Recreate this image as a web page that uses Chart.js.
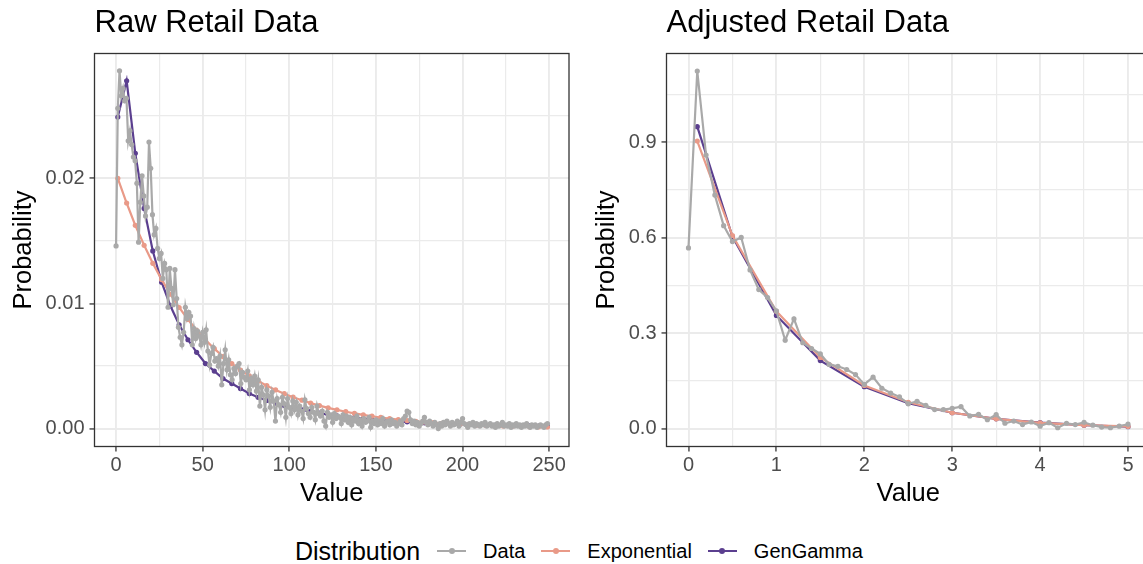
<!DOCTYPE html>
<html>
<head>
<meta charset="utf-8">
<script src="https://cdn.jsdelivr.net/npm/chart.js@4.4.0/dist/chart.umd.min.js"></script>
<style>
  html, body { margin: 0; padding: 0; background: #fff; width: 1143px; height: 564px; overflow: hidden; position: relative; }
  canvas { position: absolute; top: 0; }
  #rawChart { left: 0; }
  #adjChart { left: 580px; }
  .legend {
    position: absolute; left: 295px; top: 535px; height: 32px;
    display: flex; align-items: center;
    font-family: 'Liberation Sans', Arial, sans-serif; color: #000;
  }
  .legend .title { font-size: 25px; margin-right: 17px; }
  .legend .key { position: relative; width: 29px; height: 2px; margin-right: 17px; }
  .legend .key i { position: absolute; left: 11.5px; top: -2px; width: 6px; height: 6px; border-radius: 50%; }
  .legend .label { font-size: 20px; margin-right: 16px; }
</style>
</head>
<body>
<canvas id="rawChart" width="580" height="520"></canvas>
<canvas id="adjChart" width="580" height="520"></canvas>
<div class="legend" id="legend"></div>

<script>
// Colours
const dataColor = '#a9a9a9';
const expColor = '#e99a88';
const ggColor = '#5b3f8f';

// ---------- Raw Retail Data ----------
// observed probability for value 0..249
const rawDataProb = [
  0.0146, 0.0256, 0.0286, 0.0266, 0.0272, 0.0262, 0.0264, 0.0230, 0.0238, 0.0227,
  0.0217, 0.0214, 0.0196, 0.0149, 0.0181, 0.0202, 0.0186, 0.0170, 0.0177, 0.0229,
  0.0208, 0.0171, 0.0155, 0.0160, 0.0144, 0.0136, 0.0140, 0.0120, 0.0132, 0.0127,
  0.0097, 0.0128, 0.0112, 0.0099, 0.0127, 0.0104, 0.0081, 0.0073, 0.0067, 0.0077,
  0.0097, 0.0088, 0.0093, 0.0090, 0.0067, 0.0080, 0.0072, 0.0078, 0.0074, 0.0067,
  0.0077, 0.0069, 0.0079, 0.0062, 0.0051, 0.0060, 0.0065, 0.0054, 0.0056, 0.0050,
  0.0058, 0.0035, 0.0052, 0.0063, 0.0047, 0.0055, 0.0043, 0.0039, 0.0048, 0.0044,
  0.0050, 0.0052, 0.0036, 0.0045, 0.0041, 0.0039, 0.0046, 0.0031, 0.0040, 0.0035,
  0.0042, 0.0030, 0.0039, 0.0018, 0.0033, 0.0027, 0.0015, 0.0031, 0.0026, 0.0017,
  0.0029, 0.0022, 0.0006, 0.0024, 0.0019, 0.0013, 0.0025, 0.0020, 0.0009, 0.0024,
  0.0017, 0.0012, 0.0022, 0.0015, 0.0021, 0.0011, 0.0018, 0.0014, 0.0008, 0.0023,
  0.0016, 0.0012, 0.0009, 0.0017, 0.0013, 0.0007, 0.0018, 0.0012, 0.0010, 0.0014,
  0.0006, 0.0002, 0.0013, 0.0009, 0.0011, 0.0005, 0.0012, 0.0008, 0.0010, 0.0009,
  0.0004, 0.0011, 0.0007, 0.0010, 0.0005, 0.0009, 0.0003, 0.0008, 0.0006, 0.0010,
  0.0004, 0.0007, 0.0002, 0.0008, 0.0005, 0.0006, 0.0009, 0.0001, 0.0006, 0.0004,
  0.0007, 0.0003, 0.0006, 0.0004, 0.0008, 0.0002, 0.0005, 0.0006, 0.0003, 0.0007,
  0.0004, 0.0005, 0.0002, 0.0004, 0.0006, 0.0003, 0.0008, 0.0010, 0.0014, 0.0013,
  0.0007, 0.0004, 0.0006, 0.0003, 0.0005, 0.0002, 0.0004, 0.0006, 0.0009, 0.0005,
  0.0003, 0.0006, 0.0004, 0.0002, 0.0005, 0.0003, 0.0000, 0.0004, 0.0002, 0.0005,
  0.0003, 0.0006, 0.0004, 0.0002, 0.0005, 0.0003, 0.0004, 0.0006, 0.0002, 0.0005,
  0.0008, 0.0004, 0.0003, 0.0001, 0.0004, 0.0003, 0.0005, 0.0002, 0.0004, 0.0003,
  0.0002, 0.0004, 0.0003, 0.0005, 0.0002, 0.0003, 0.0004, 0.0002, 0.0003, 0.0001,
  0.0004, 0.0002, 0.0003, 0.0005, 0.0002, 0.0003, 0.0002, 0.0004, 0.0001, 0.0003,
  0.0002, 0.0004, 0.0002, 0.0003, 0.0001, 0.0003, 0.0002, 0.0004, 0.0002, 0.0001,
  0.0003, 0.0002, 0.0003, 0.0001, 0.0002, 0.0003, 0.0002, 0.0001, 0.0003, 0.0004
];
const rawDataValue = rawDataProb.map((p, i) => i);

// fitted curves evaluated on a grid of values
const rawFitValue = [
  1.0, 6.1, 11.1, 16.2, 21.2, 26.3, 31.4, 36.4, 41.5, 46.5,
  51.6, 56.7, 61.7, 66.8, 71.8, 76.9, 82.0, 87.0, 92.1, 97.1,
  102.2, 107.3, 112.3, 117.4, 122.4, 127.5, 132.6, 137.6, 142.7, 147.7,
  152.8, 157.9, 162.9, 168.0, 173.0, 178.1, 183.2, 188.2, 193.3, 198.3,
  203.4, 208.5, 213.5, 218.6, 223.6, 228.7, 233.8, 238.8, 243.9, 249.0
];
const rawExpProb = [
  0.02000, 0.01803, 0.01625, 0.01465, 0.01321, 0.01191, 0.01074, 0.00968, 0.00872, 0.00786,
  0.00709, 0.00639, 0.00576, 0.00519, 0.00468, 0.00422, 0.00381, 0.00343, 0.00309, 0.00279,
  0.00251, 0.00227, 0.00204, 0.00184, 0.00166, 0.00150, 0.00135, 0.00122, 0.00110, 0.00099,
  0.00089, 0.00080, 0.00072, 0.00065, 0.00059, 0.00053, 0.00048, 0.00043, 0.00039, 0.00035,
  0.00032, 0.00029, 0.00026, 0.00023, 0.00021, 0.00019, 0.00017, 0.00015, 0.00014, 0.00013
];
const rawGGProb = [
  0.02490, 0.02780, 0.02200, 0.01760, 0.01420, 0.01170, 0.00980, 0.00830, 0.00710, 0.00610,
  0.00520, 0.00460, 0.00400, 0.00360, 0.00320, 0.00280, 0.00250, 0.00225, 0.00203, 0.00185,
  0.00166, 0.00150, 0.00137, 0.00123, 0.00112, 0.00102, 0.00094, 0.00087, 0.00080, 0.00074,
  0.00068, 0.00063, 0.00058, 0.00054, 0.00050, 0.00046, 0.00043, 0.00040, 0.00037, 0.00035,
  0.00033, 0.00031, 0.00029, 0.00027, 0.00026, 0.00024, 0.00023, 0.00022, 0.00021, 0.00020
];
const rawXTicks = [0, 25, 50, 75, 100, 125, 150, 175, 200, 225, 250];
const rawXLabels = ['0', '', '50', '', '100', '', '150', '', '200', '', '250'];
const rawYTicks = [0, 0.005, 0.01, 0.015, 0.02, 0.025];
const rawYLabels = ['0.00', '', '0.01', '', '0.02', ''];

// ---------- Adjusted Retail Data ----------
const adjDataValue = [
  0.0, 0.1, 0.2, 0.3, 0.4, 0.5, 0.6, 0.7, 0.8, 0.9,
  1.0, 1.1, 1.2, 1.3, 1.4, 1.5, 1.6, 1.7, 1.8, 1.9,
  2.0, 2.1, 2.2, 2.3, 2.4, 2.5, 2.6, 2.7, 2.8, 2.9,
  3.0, 3.1, 3.2, 3.3, 3.4, 3.5, 3.6, 3.7, 3.8, 3.9,
  4.0, 4.1, 4.2, 4.3, 4.4, 4.5, 4.6, 4.7, 4.8, 4.9, 5.0
];
const adjDataProb = [
  0.568, 1.124, 0.860, 0.734, 0.638, 0.588, 0.601, 0.499, 0.437, 0.412,
  0.370, 0.278, 0.345, 0.270, 0.252, 0.235, 0.202, 0.196, 0.186, 0.170,
  0.139, 0.162, 0.127, 0.112, 0.100, 0.078, 0.086, 0.073, 0.060, 0.060,
  0.064, 0.069, 0.040, 0.045, 0.028, 0.044, 0.017, 0.024, 0.013, 0.021,
  0.008, 0.019, 0.003, 0.017, 0.013, 0.020, 0.011, 0.005, 0.003, 0.008, 0.014
];
const adjFitValue = [0.1, 0.5, 1.0, 1.5, 2.0, 2.5, 3.0, 3.5, 4.0, 4.5, 5.0];
const adjExpProb = [0.904, 0.607, 0.369, 0.224, 0.136, 0.083, 0.050, 0.031, 0.018, 0.011, 0.007];
const adjGGProb = [0.949, 0.604, 0.356, 0.214, 0.132, 0.080, 0.050, 0.031, 0.019, 0.011, 0.006];
const adjXTicks = [0, 0.5, 1, 1.5, 2, 2.5, 3, 3.5, 4, 4.5, 5];
const adjXLabels = ['0', '', '1', '', '2', '', '3', '', '4', '', '5'];
const adjYTicks = [0, 0.15, 0.3, 0.45, 0.6, 0.75, 0.9, 1.05];
const adjYLabels = ['0.0', '', '0.3', '', '0.6', '', '0.9', ''];

const seriesNames = ['Data', 'Exponential', 'GenGamma'];
const seriesColors = [dataColor, expColor, ggColor];

Chart.defaults.font.family = "'Liberation Sans', Arial, sans-serif";
Chart.defaults.color = '#4d4d4d';

// ggplot-style panel border drawn over the data
const panelBorder = {
  id: 'panelBorder',
  afterDatasetsDraw(chart) {
    const { ctx, chartArea: a } = chart;
    ctx.save();
    ctx.strokeStyle = '#333333';
    ctx.lineWidth = 1.3;
    ctx.strokeRect(a.left, a.top, a.right - a.left, a.bottom - a.top);
    ctx.restore();
  }
};

function toPoints(xs, ys) {
  return xs.map((x, i) => ({ x: x, y: ys[i] }));
}

function lineSet(label, xs, ys, color) {
  return {
    label: label,
    data: toPoints(xs, ys),
    borderColor: color,
    backgroundColor: color,
    pointBackgroundColor: color,
    borderWidth: 2.2,
    pointRadius: 2.6,
    pointBorderWidth: 0,
    tension: 0,
    fill: false
  };
}

function gridOpts() {
  return {
    color: '#ebebeb',
    lineWidth: ctx => (ctx.index % 2 === 0 ? 1.9 : 1.2),
    tickLength: 5,
    tickWidth: 1.3,
    tickColor: ctx => (ctx.index % 2 === 0 ? '#333333' : 'rgba(0,0,0,0)')
  };
}

function makeChart(id, cfg) {
  const ctx = document.getElementById(id).getContext('2d');
  return new Chart(ctx, {
    type: 'line',
    data: {
      datasets: [
        lineSet('Data', cfg.dataX, cfg.dataY, dataColor),
        lineSet('Exponential', cfg.fitX, cfg.expY, expColor),
        lineSet('GenGamma', cfg.fitX, cfg.ggY, ggColor)
      ]
    },
    options: {
      responsive: false,
      animation: false,
      layout: { padding: { left: 0, right: cfg.padRight, top: 0, bottom: 8.5 } },
      plugins: {
        legend: { display: false },
        tooltip: { enabled: false },
        title: {
          display: true,
          text: cfg.title,
          align: 'start',
          fullSize: false,
          color: '#000',
          font: { size: 31, weight: 'normal' },
          padding: { top: 5, bottom: 11.3 }
        }
      },
      scales: {
        x: {
          type: 'linear',
          min: cfg.xMin,
          max: cfg.xMax,
          afterBuildTicks: axis => { axis.ticks = cfg.xTicks.map(v => ({ value: v })); },
          afterFit: axis => { axis.height = 65; },
          ticks: {
            autoSkip: false,
            maxRotation: 0,
            padding: 2,
            color: '#4d4d4d',
            font: { size: 20 },
            callback: (v, i) => cfg.xLabels[i]
          },
          grid: gridOpts(),
          border: { display: false },
          title: {
            display: true,
            text: 'Value',
            color: '#000',
            font: { size: 25.5 },
            padding: { top: 0, bottom: 2 }
          }
        },
        y: {
          type: 'linear',
          min: cfg.yMin,
          max: cfg.yMax,
          afterBuildTicks: axis => { axis.ticks = cfg.yTicks.map(v => ({ value: v })); },
          afterFit: axis => { axis.width = cfg.yWidth; },
          ticks: {
            autoSkip: false,
            padding: 5,
            color: '#4d4d4d',
            font: { size: 20 },
            callback: (v, i) => cfg.yLabels[i]
          },
          grid: gridOpts(),
          border: { display: false },
          title: {
            display: true,
            text: 'Probability',
            color: '#000',
            font: { size: 25.5 },
            padding: { top: cfg.yTitlePad, bottom: 0 }
          }
        }
      }
    },
    plugins: [panelBorder]
  });
}

makeChart('rawChart', {
  title: 'Raw Retail Data',
  dataX: rawDataValue, dataY: rawDataProb,
  fitX: rawFitValue, expY: rawExpProb, ggY: rawGGProb,
  xMin: -12.45, xMax: 261.45, yMin: -0.00143, yMax: 0.02998,
  xTicks: rawXTicks, xLabels: rawXLabels,
  yTicks: rawYTicks, yLabels: rawYLabels,
  yWidth: 94.5, yTitlePad: 9, padRight: 11
});

makeChart('adjChart', {
  title: 'Adjusted Retail Data',
  dataX: adjDataValue, dataY: adjDataProb,
  fitX: adjFitValue, expY: adjExpProb, ggY: adjGGProb,
  xMin: -0.25, xMax: 5.25, yMin: -0.056, yMax: 1.179,
  xTicks: adjXTicks, xLabels: adjXLabels,
  yTicks: adjYTicks, yLabels: adjYLabels,
  yWidth: 86.5, yTitlePad: 12, padRight: 10
});

// Legend
const legend = document.getElementById('legend');
let html = '<span class="title">Distribution</span>';
seriesNames.forEach((name, i) => {
  html += '<span class="key" style="background:' + seriesColors[i] + '"><i style="background:' + seriesColors[i] + '"></i></span>' +
          '<span class="label">' + name + '</span>';
});
legend.innerHTML = html;
</script>
</body>
</html>
